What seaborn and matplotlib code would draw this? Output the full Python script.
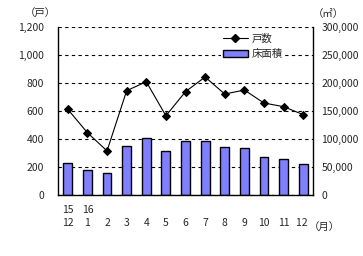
import matplotlib
matplotlib.use("Agg")
import matplotlib.pyplot as plt
import seaborn as sns
import numpy as np
import pandas as pd
from matplotlib.ticker import FixedLocator, FuncFormatter
from matplotlib.lines import Line2D
from matplotlib.patches import Patch

# ---- data ----
months = ["15\n12", "16\n1", "\n2", "\n3", "\n4", "\n5", "\n6", "\n7", "\n8", "\n9", "\n10", "\n11", "\n12 "]
units = [612, 445, 315, 745, 809, 566, 738, 843, 721, 750, 657, 631, 574]          # 戸数 (戸)
floor_area = [56600, 44000, 39300, 87500, 101800, 78600, 95800, 95800, 85700, 83300, 67300, 63800, 55400]  # 床面積 (㎡)
left_ticks = [0, 200, 400, 600, 800, 1000, 1200]
right_ticks = [0, 50000, 100000, 150000, 200000, 250000, 300000]

sns.set_theme(style="white")
plt.rcParams["font.family"] = ["Noto Sans CJK JP", "DejaVu Sans"]
plt.rcParams["font.size"] = 7.5

df = pd.DataFrame({"month": months, "units": units, "area": floor_area})

fig = plt.figure(figsize=(3.63, 2.56), dpi=100)
ax = fig.add_axes([58/363, 1-195/256, (313-58)/363, (195-27)/256])
ax2 = ax.twinx()

# bars (floor area) on base axes, ticks on right
sns.barplot(data=df, x="month", y="area", order=months, ax=ax, color="#8080ff",
            saturation=1, edgecolor="black", linewidth=1.0, width=0.45, zorder=2)
ax.set_ylim(0, 300000)
ax.set_xlim(-0.5, len(months)-0.5)
ax.yaxis.set_major_locator(FixedLocator(right_ticks))
ax.yaxis.set_major_formatter(FuncFormatter(lambda v, p: f"{int(v):,}"))
ax.set_axisbelow(True)
ax.grid(axis="y", color="black", linestyle=(0, (3, 3)), linewidth=0.8)
ax.set_xlabel("")
ax.set_ylabel("")

# x ticks
ax.set_xticks(range(len(months)))
ax.set_xticklabels(months, linespacing=1.35)
ax.tick_params(axis="x", length=0, pad=7, labelsize=7.5)
ax.set_xticks(np.arange(0.5, len(months)-0.5, 1), minor=True)
ax.tick_params(axis="x", which="minor", direction="in", length=3, width=0.8, color="black")

for s in ["left", "right", "bottom"]:
    ax.spines[s].set_visible(True)
    ax.spines[s].set_color("black")
    ax.spines[s].set_linewidth(1.0)
ax.spines["top"].set_visible(False)

# line (units) on twin axes, ticks on left
sns.lineplot(x=np.arange(len(months)), y=units, ax=ax2, color="black", marker="D",
             markersize=4.5, markeredgecolor="black", linewidth=0.8)
ax2.set_ylim(0, 1200)
ax2.set_xlim(-0.5, len(months)-0.5)
ax2.yaxis.tick_left()
ax2.yaxis.set_major_locator(FixedLocator(left_ticks))
ax2.yaxis.set_major_formatter(FuncFormatter(lambda v, p: f"{int(v):,}"))
ax2.tick_params(axis="y", length=0, pad=10, labelsize=7.5)
ax2.grid(False)
for s in ax2.spines.values():
    s.set_visible(False)
ax.yaxis.tick_right()
ax.tick_params(axis="y", length=0, pad=6, labelsize=7.5)

# legend
handles = [Line2D([0], [0], color="black", marker="D", markersize=4.5, linewidth=0.8),
           Patch(facecolor="#8080ff", edgecolor="black", linewidth=1.0)]
leg = fig.legend(handles, ["戸数", "床面積"], loc="upper left",
                 bbox_to_anchor=(221/363, 1-32/256), frameon=True, fontsize=7.5,
                 handlelength=2.4, handletextpad=0.4, labelspacing=0.5, borderpad=0.15,
                 borderaxespad=0.0, facecolor="white", edgecolor="none", framealpha=1.0,
                 fancybox=False)

fig.text(40/363, 1-14/256, "（戸）", ha="center", va="center", fontsize=7.5)
fig.text(328/363, 1-14/256, "（㎡）", ha="center", va="center", fontsize=7.5)
fig.text(324/363, 1-227/256, "（月）", ha="center", va="center", fontsize=7.5)

fig.savefig("out.png", dpi=100)
